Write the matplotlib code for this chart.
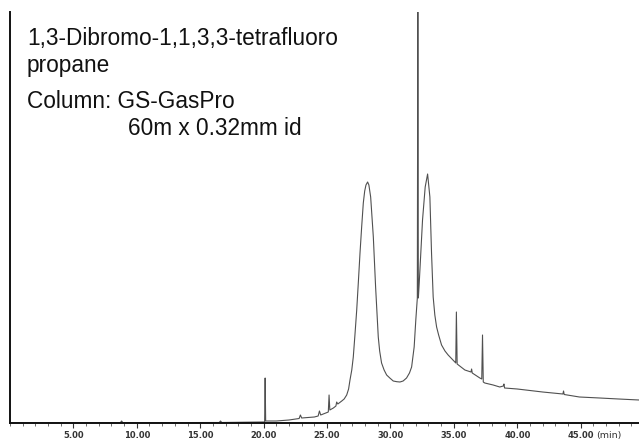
import numpy as np
from matplotlib import pyplot as plt
from matplotlib.ticker import MultipleLocator

# chromatogram trace: retention time (min) and detector signal
time = [0.0, 5.0, 8.7, 8.8, 8.9, 16.5, 16.6, 16.7, 19.9, 20.08, 20.12, 20.16,
        21.0, 22.0, 22.8, 22.9, 23.0, 24.0, 24.3, 24.4, 24.5, 24.9, 25.1, 25.16,
        25.22, 25.5, 25.7, 25.76, 25.85, 26.16, 26.35, 26.55, 26.7, 26.81, 26.95,
        27.07, 27.2, 27.34, 27.47, 27.6, 27.73, 27.86, 27.97, 28.07, 28.2, 28.3,
        28.44, 28.65, 28.83, 29.04, 29.15, 29.3, 29.5, 29.7, 29.95, 30.22, 30.5,
        30.75, 31.0, 31.27, 31.5, 31.67, 31.87, 32.0, 32.12, 32.16, 32.2, 32.27,
        32.53, 32.74, 32.93, 33.11, 33.24, 33.37, 33.5, 33.64, 33.8, 34.03, 34.3,
        34.55, 35.08, 35.15, 35.2, 35.26, 35.87, 36.35, 36.4, 36.45, 37.05, 37.2,
        37.26, 37.32, 37.44, 38.1, 38.62, 38.9, 38.95, 39.0, 40.0, 42.0, 43.6,
        43.65, 43.7, 44.9, 46.5, 48.0, 49.6]
signal = [0, 0, 0.3, 2, 0.3, 0.5, 2, 0.5, 1, 1, 45, 2,
          2, 3, 4.5, 8, 5, 6, 7, 12, 8, 10, 11, 28,
          13, 15, 17, 21, 19, 22, 24, 28, 34, 43, 53,
          66, 88, 113, 141, 170, 196, 220, 232, 238, 241, 238,
          226, 186, 136, 86, 72, 60, 53, 48, 45, 42, 41.3,
          41, 42, 45, 50, 56, 76, 103, 125, 430, 125, 140,
          203, 236, 249, 226, 170, 126, 108, 96, 88, 78, 72,
          68, 61, 60, 111, 59, 53, 51, 54, 50, 45, 44,
          88, 41, 40, 38, 36, 37, 39, 35, 34, 31, 29,
          32, 28.5, 26, 25, 24, 23]

major_ticks = [5, 10, 15, 20, 25, 30, 35, 40, 45]
tick_labels = ['5.00', '10.00', '15.00', '20.00', '25.00', '30.00', '35.00', '40.00', '45.00']

fig = plt.figure(figsize=(6.39, 4.42), dpi=100)
ax = fig.add_axes([10/639, 19/442, 1 - 10/639, 411/442])

ax.plot(time, signal, color='#505050', lw=0.8)
ax.set_xlim(0, 49.6)
ax.set_ylim(0, 411)

for s in ['top', 'right']:
    ax.spines[s].set_visible(False)
for s in ['left', 'bottom']:
    ax.spines[s].set_linewidth(1.4)
    ax.spines[s].set_color('#111111')

ax.set_yticks([])
ax.set_xticks(major_ticks)
ax.set_xticklabels(tick_labels, fontsize=6.0, fontweight='bold', color='#333333')
ax.xaxis.set_minor_locator(MultipleLocator(1))
ax.tick_params(axis='x', which='major', length=3.5, width=0.8, pad=2, color='#333333')
ax.tick_params(axis='x', which='minor', length=1.8, width=0.6, color='#555555')

fig.text(596/639, 1 - 438/442, '(min)', fontsize=6.8, color='#333333', va='baseline')

txt = dict(fontsize=16.3, family='Liberation Sans', color='#111111', va='baseline')
fig.text(27/639, 1 - 45/442, '1,3-Dibromo-1,1,3,3-tetrafluoro', **txt)
fig.text(27/639, 1 - 72/442, 'propane', **txt)
fig.text(27/639, 1 - 108/442, 'Column: GS-GasPro', **txt)
fig.text(128/639, 1 - 135/442, '60m x 0.32mm id', **txt)

fig.savefig('out.png', dpi=100)
